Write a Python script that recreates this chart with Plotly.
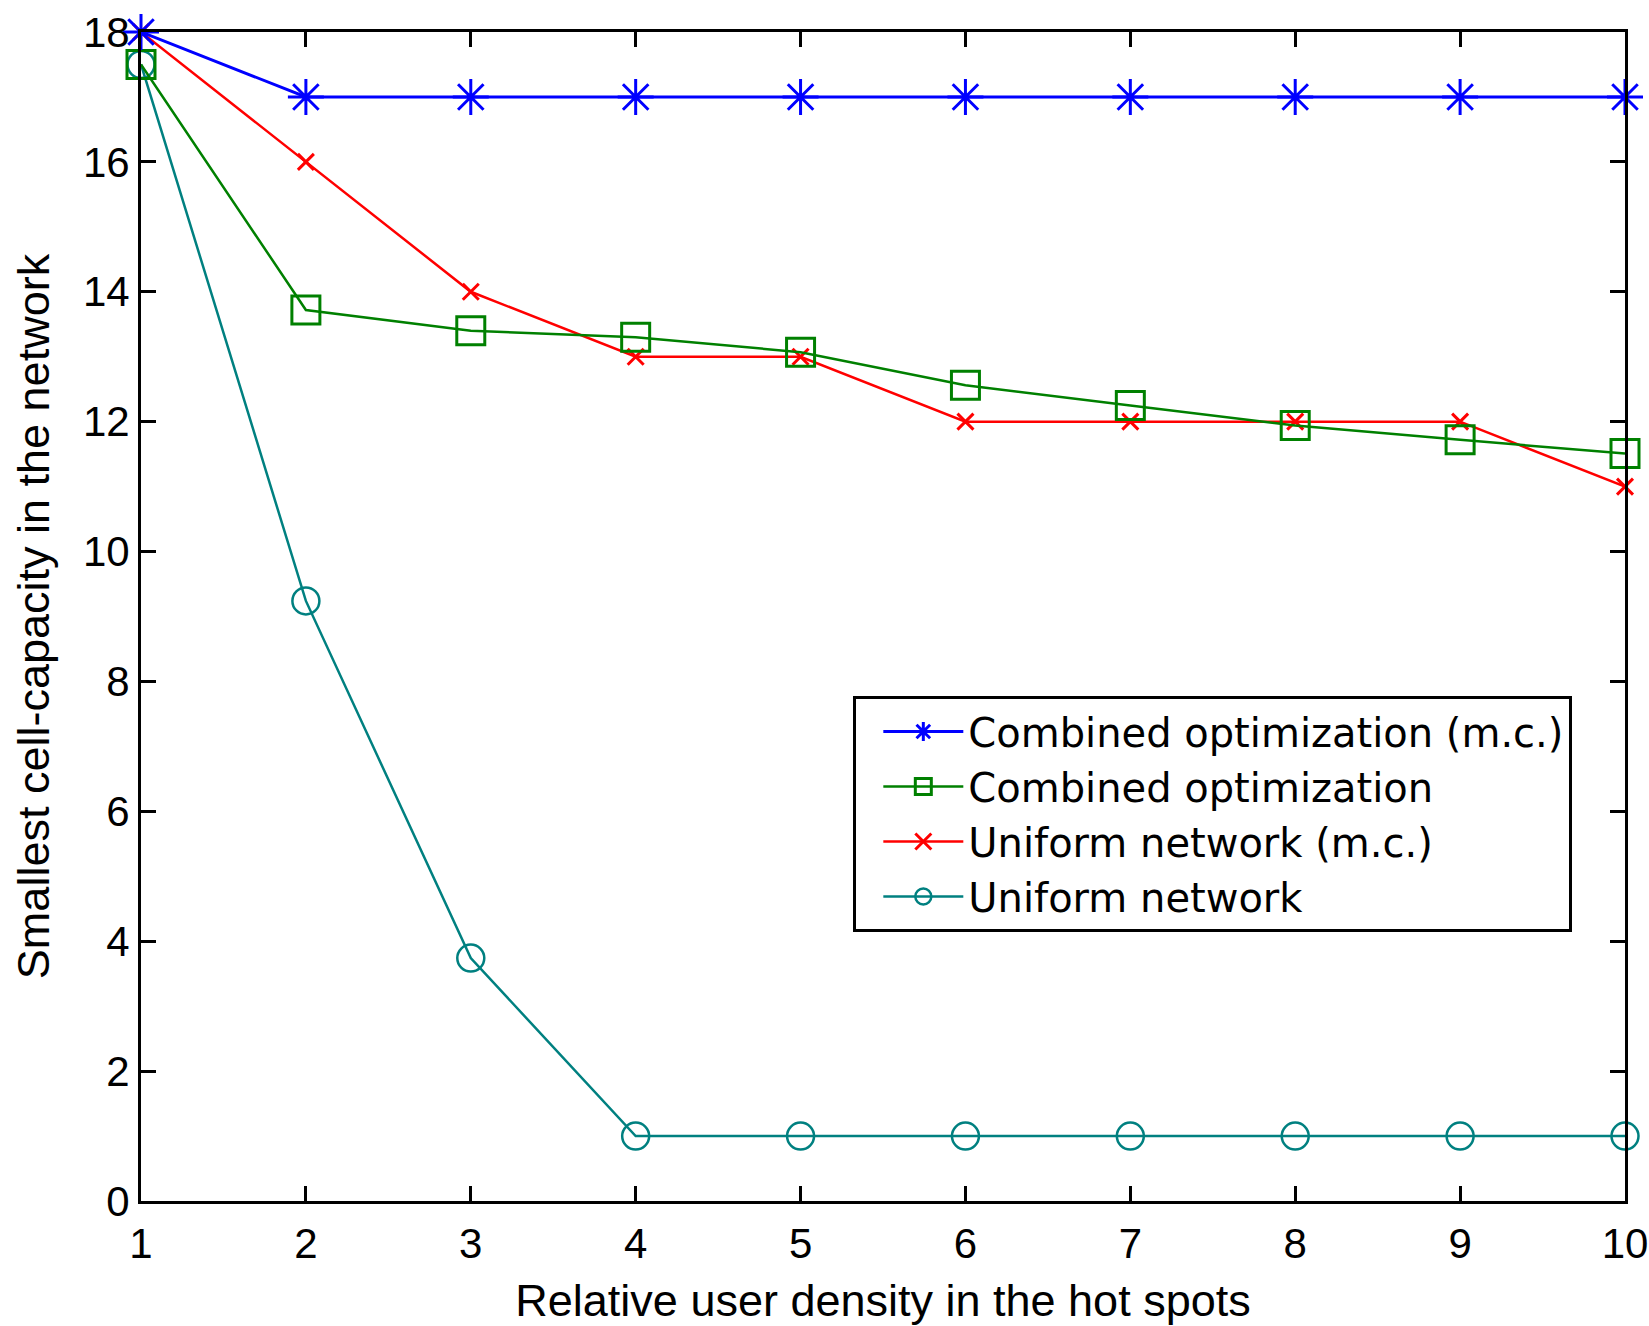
import plotly.graph_objects as go

x_density = [1, 2, 3, 4, 5, 6, 7, 8, 9, 10]
combined_mc = [18, 17, 17, 17, 17, 17, 17, 17, 17, 17]
combined = [17.5, 13.72, 13.4, 13.3, 13.07, 12.56, 12.25, 11.94, 11.72, 11.51]
uniform_mc = [18, 16, 14, 13, 13, 12, 12, 12, 12, 11]
uniform = [17.5, 9.24, 3.74, 1, 1, 1, 1, 1, 1, 1]

names = ["Combined optimization (m.c.)", "Combined optimization",
         "Uniform network (m.c.)", "Uniform network"]
x_ticks = [1, 2, 3, 4, 5, 6, 7, 8, 9, 10]
y_ticks = [0, 2, 4, 6, 8, 10, 12, 14, 16, 18]

FONT = "Liberation Sans, Arial, sans-serif"
LEG_FONT = "DejaVu Sans, Liberation Sans, sans-serif"

fig = go.Figure()
fig.add_trace(go.Scatter(x=x_density, y=uniform, name=names[3], mode="lines+markers",
                         line=dict(color="#008080", width=2.5),
                         marker=dict(symbol="circle-open", size=27, color="#008080",
                                     line=dict(width=2.5, color="#008080"))))
fig.add_trace(go.Scatter(x=x_density, y=uniform_mc, name=names[2], mode="lines+markers",
                         line=dict(color="#FF0000", width=2.5),
                         marker=dict(symbol="x-thin-open", size=16, color="#FF0000",
                                     line=dict(width=3, color="#FF0000"))))
fig.add_trace(go.Scatter(x=x_density, y=combined, name=names[1], mode="lines+markers",
                         line=dict(color="#008000", width=2.5),
                         marker=dict(symbol="square-open", size=28, color="#008000",
                                     line=dict(width=3, color="#008000"))))
fig.add_trace(go.Scatter(x=x_density, y=combined_mc, name=names[0], mode="lines+markers",
                         line=dict(color="#0000FF", width=3),
                         marker=dict(symbol="asterisk-open", size=30, color="#0000FF",
                                     line=dict(width=3, color="#0000FF"))))

fig.update_layout(
    width=1649, height=1326,
    margin=dict(l=141, r=24, t=32, b=125, autoexpand=False),
    plot_bgcolor="white", paper_bgcolor="white",
    font=dict(family=FONT, size=44, color="black"),
    showlegend=True,
    legend=dict(x=0.480, y=0.432, xanchor="left", yanchor="top",
                traceorder="reversed",
                bgcolor="white", bordercolor="black", borderwidth=3,
                font=dict(family=LEG_FONT, size=40, color="black"),
                itemwidth=80, indentation=22),
    xaxis=dict(range=[1, 10], tickvals=x_ticks, ticks="inside", ticklen=15, tickwidth=3,
               tickcolor="black", showline=True, linecolor="black", linewidth=3,
               mirror="allticks", showgrid=False, zeroline=False, automargin=False,
               ticklabelstandoff=4, ticklabeloverflow="allow",
               tickfont=dict(family=FONT, size=42),
               title=dict(text="Relative user density in the hot spots",
                          font=dict(family=FONT, size=45), standoff=26)),
    yaxis=dict(range=[0, 18], tickvals=y_ticks, ticks="inside", ticklen=15, tickwidth=3,
               tickcolor="black", showline=True, linecolor="black", linewidth=3,
               mirror="allticks", showgrid=False, zeroline=False, automargin=False,
               tickfont=dict(family=FONT, size=42),
               title=dict(text="Smallest cell-capacity in the network",
                          font=dict(family=FONT, size=45), standoff=20)),
)
for tr in fig.data:
    tr.cliponaxis = False

fig.write_html("out.html")
